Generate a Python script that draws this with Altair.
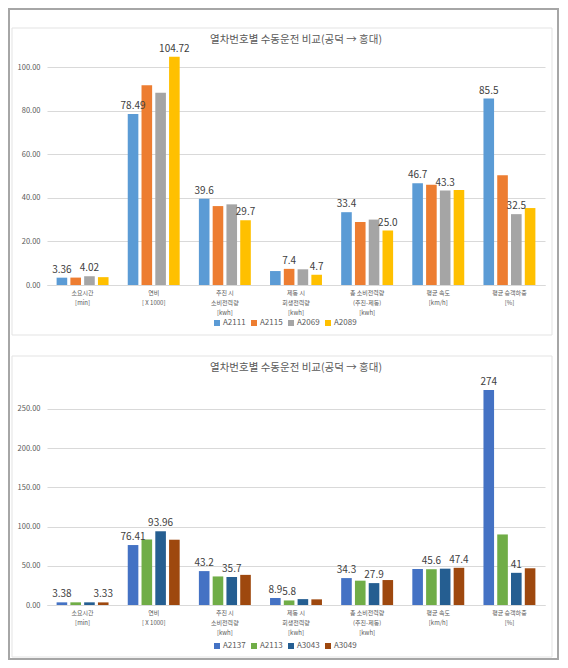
import altair as alt
import pandas as pd

TITLE = "열차번호별 수동운전 비교(공덕 → 홍대)"

categories = [
    "소요시간\n[min]",
    "연비\n[ X 1000]",
    "추진 시\n소비전력량\n[kwh]",
    "제동 시\n회생전력량\n[kwh]",
    "총 소비전력량\n(추진-제동)\n[kwh]",
    "평균 속도\n[km/h]",
    "평균 승객하중\n[%]",
]

# ---- top chart ----
top_series = ["A2111", "A2115", "A2069", "A2089"]
top_colors = ["#5B9BD5", "#ED7D31", "#A5A5A5", "#FFC000"]
A2111 = [3.36, 78.49, 39.6, 6.4, 33.4, 46.7, 85.5]
A2115 = [3.4, 91.6, 36.2, 7.4, 28.9, 46.0, 50.3]
A2069 = [4.02, 88.2, 37.0, 7.2, 30.0, 43.3, 32.5]
A2089 = [3.6, 104.72, 29.7, 4.7, 25.0, 43.6, 35.3]
A2111_lbl = ["3.36", "78.49", "39.6", "", "33.4", "46.7", "85.5"]
A2115_lbl = ["", "", "", "7.4", "", "", ""]
A2069_lbl = ["4.02", "", "", "", "", "43.3", "32.5"]
A2089_lbl = ["", "104.72", "29.7", "4.7", "25.0", "", ""]
top_ticks = [0, 20, 40, 60, 80, 100]

# ---- bottom chart ----
bot_series = ["A2137", "A2113", "A3043", "A3049"]
bot_colors = ["#4472C4", "#70AD47", "#255E91", "#9E480E"]
A2137 = [3.38, 76.41, 43.2, 8.9, 34.3, 45.9, 274]
A2113 = [3.4, 83.5, 36.4, 5.8, 31.0, 45.6, 89.9]
A3043 = [3.4, 93.96, 35.7, 7.5, 27.9, 46.3, 41]
A3049 = [3.33, 83.2, 38.4, 7.2, 31.8, 47.4, 46.8]
A2137_lbl = ["3.38", "76.41", "43.2", "8.9", "34.3", "", "274"]
A2113_lbl = ["", "", "", "5.8", "", "45.6", ""]
A3043_lbl = ["", "93.96", "35.7", "", "27.9", "", "41"]
A3049_lbl = ["3.33", "", "", "", "", "47.4", ""]
bot_ticks = [0, 50, 100, 150, 200, 250]

FONT = "Noto Sans CJK KR"
GRAY = "#595959"
W = 498


def make_df(names, values, labels):
    rows = []
    for n, vals, lbls in zip(names, values, labels):
        for c, v, l in zip(categories, vals, lbls):
            rows.append({"category": c, "series": n, "value": v, "label": l})
    return pd.DataFrame(rows)


def frame(x1, x2, y1, y2, color, sw):
    return alt.Chart(alt.Data(values=[{"f": 1}])).mark_rect(
        fillOpacity=0, stroke=color, strokeWidth=sw
    ).encode(x=alt.value(x1), x2=alt.value(x2), y=alt.value(y1), y2=alt.value(y2))


def panel(names, values, labels, colors, dmax, ticks, h, legend_y, frames, title_offset):
    df = make_df(names, values, labels)
    base = alt.Chart(df).encode(
        x=alt.X(
            "category:N",
            sort=categories,
            title=None,
            scale=alt.Scale(paddingInner=0.27, paddingOuter=0.135),
            axis=alt.Axis(
                labelExpr="split(datum.label, '\\n')",
                labelAngle=0,
                labelFontSize=6,
                labelColor=GRAY,
                labelLineHeight=10,
                labelPadding=4,
                ticks=False,
                domainColor="#D9D9D9",
                labelBaseline="top",
            ),
        ),
        xOffset=alt.XOffset("series:N", sort=names, scale=alt.Scale(paddingInner=0.23)),
        y=alt.Y(
            "value:Q",
            title=None,
            scale=alt.Scale(domain=[0, dmax], nice=False, zero=True),
            axis=alt.Axis(
                values=ticks,
                format=".2f",
                labelFontSize=7.5,
                labelColor=GRAY,
                labelPadding=7,
                ticks=False,
                domain=False,
                gridColor="#D9D9D9",
            ),
        ),
    )
    bars = base.mark_bar().encode(
        color=alt.Color(
            "series:N",
            sort=names,
            title=None,
            scale=alt.Scale(domain=names, range=colors),
            legend=alt.Legend(
                orient="none",
                legendX=166,
                legendY=legend_y,
                direction="horizontal",
                symbolType="square",
                symbolSize=36,
                symbolStrokeWidth=0,
                labelFontSize=8,
                labelColor=GRAY,
                columnPadding=4,
                labelOffset=2,
            ),
        )
    )
    text = base.mark_text(baseline="bottom", dy=-3, fontSize=10, color="#404040").encode(
        text="label:N"
    )
    return alt.layer(*frames, bars, text).properties(
        width=W,
        height=h,
        title=alt.TitleParams(
            TITLE,
            fontSize=10.5,
            color=GRAY,
            fontWeight="normal",
            anchor="middle",
            offset=title_offset,
        ),
    )


top = panel(
    top_series,
    [A2111, A2115, A2069, A2089],
    [A2111_lbl, A2115_lbl, A2069_lbl, A2089_lbl],
    top_colors,
    107.8,
    top_ticks,
    235,
    269,
    [
        frame(-38, 511, -41, 609, "#A6A6A6", 2),
        frame(-35, 505, -22, 285, "#E3E3E3", 1),
    ],
    -37,
)

bottom = panel(
    bot_series,
    [A2137, A2113, A3043, A3049],
    [A2137_lbl, A2113_lbl, A3043_lbl, A3049_lbl],
    bot_colors,
    288,
    bot_ticks,
    226,
    263,
    [frame(-35, 505, -23, 278, "#E3E3E3", 1)],
    -18,
)

chart = (
    alt.vconcat(top, bottom, spacing=94, bounds="flush")
    .resolve_scale(color="independent", x="independent", y="independent", xOffset="independent")
    .resolve_legend(color="independent")
    .properties(padding=0, background="white")
    .configure(font=FONT)
    .configure_view(stroke=None)
)

chart.save("out.html", embed_options={"renderer": "svg", "actions": False})
